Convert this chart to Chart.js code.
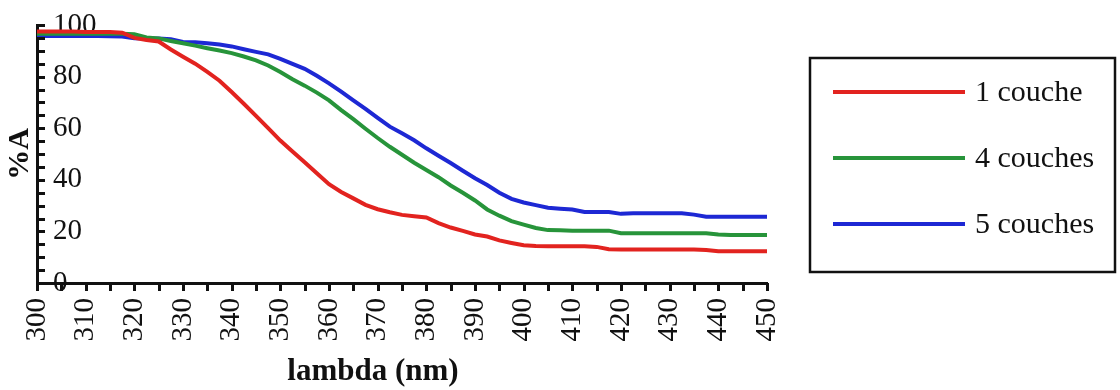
<!DOCTYPE html>
<html>
<head>
<meta charset="utf-8">
<script src="https://cdn.jsdelivr.net/npm/chart.js@4.4.1/dist/chart.umd.min.js"></script>
<style>
  html, body { margin: 0; padding: 0; background: #fff; }
  #wrap { width: 1120px; height: 390px; }
</style>
</head>
<body>
<div id="wrap"><canvas id="absorbance"></canvas></div>
<script>
// wavelengths (nm), one reading every 2.5 nm
const lambdas = [
  300, 302.5, 305, 307.5, 310, 312.5, 315, 317.5, 320, 322.5,
  325, 327.5, 330, 332.5, 335, 337.5, 340, 342.5, 345, 347.5,
  350, 352.5, 355, 357.5, 360, 362.5, 365, 367.5, 370, 372.5,
  375, 377.5, 380, 382.5, 385, 387.5, 390, 392.5, 395, 397.5,
  400, 402.5, 405, 407.5, 410, 412.5, 415, 417.5, 420, 422.5,
  425, 427.5, 430, 432.5, 435, 437.5, 440, 442.5, 445, 447.5, 450
];

const oneLayer = [
  97.5, 97.5, 97.5, 97.5, 97.3, 97.3, 97.3, 97.0, 95.0, 94.2,
  93.6, 90.5, 87.7, 85.0, 81.8, 78.4, 74.0, 69.5, 64.8, 60.0,
  55.2, 51.0, 46.8, 42.5, 38.3, 35.3, 32.8, 30.3, 28.6, 27.4,
  26.4, 25.9, 25.4, 23.2, 21.5, 20.2, 18.8, 18.0, 16.5, 15.5,
  14.6, 14.3, 14.2, 14.2, 14.2, 14.2, 14.0, 13.1, 13.0, 13.0,
  13.0, 13.0, 13.0, 13.0, 13.0, 12.8, 12.3, 12.3, 12.3, 12.3, 12.3
];

const fourLayers = [
  96.6, 96.6, 96.6, 96.6, 96.6, 96.6, 96.6, 96.6, 96.4, 95.2,
  94.8, 93.8, 92.9, 92.0, 91.0, 90.1, 89.1, 87.8, 86.3, 84.3,
  81.8, 79.0, 76.5, 73.8, 70.8, 67.0, 63.5, 59.8, 56.2, 52.8,
  49.7, 46.6, 43.8, 41.0, 37.8, 35.0, 32.0, 28.5, 26.1, 24.0,
  22.6, 21.3, 20.5, 20.4, 20.3, 20.3, 20.3, 20.3, 19.3, 19.3,
  19.3, 19.3, 19.3, 19.3, 19.3, 19.3, 18.8, 18.6, 18.6, 18.6, 18.6
];

const fiveLayers = [
  95.7, 95.7, 95.7, 95.7, 95.7, 95.7, 95.6, 95.5, 94.9, 94.8,
  94.8, 94.5, 93.4, 93.3, 92.9, 92.4, 91.7, 90.6, 89.6, 88.6,
  86.9, 84.9, 83.0, 80.3, 77.4, 74.2, 70.8, 67.5, 64.0, 60.6,
  58.0, 55.3, 52.2, 49.3, 46.5, 43.5, 40.6, 38.0, 35.0, 32.6,
  31.2, 30.2, 29.2, 28.8, 28.5, 27.5, 27.5, 27.5, 26.8, 27.0,
  27.0, 27.0, 27.0, 27.0, 26.5, 25.7, 25.7, 25.7, 25.7, 25.7, 25.7
];

const seriesLabels = ["1 couche", "4 couches", "5 couches"];
const seriesColors = ["#e2231f", "#27943a", "#1d28d4"];
const xTitle = "lambda (nm)";

const serif = "'Liberation Serif', 'Times New Roman', serif";

// tick marks: y ticks point inside the plot, x ticks hang below the axis
const tickMarks = {
  id: "tickMarks",
  afterDraw(chart) {
    const { ctx, chartArea, scales } = chart;
    ctx.save();
    ctx.strokeStyle = "#111";
    ctx.lineWidth = 3;
    scales.y.ticks.forEach((t) => {
      const py = Math.round(scales.y.getPixelForValue(t.value)) + 0.5;
      ctx.beginPath();
      ctx.moveTo(chartArea.left, py);
      ctx.lineTo(chartArea.left + 8, py);
      ctx.stroke();
    });
    scales.x.ticks.forEach((t) => {
      const px = Math.round(scales.x.getPixelForValue(t.value)) + 0.5;
      ctx.beginPath();
      ctx.moveTo(px, chartArea.bottom);
      ctx.lineTo(px, chartArea.bottom + 8);
      ctx.stroke();
    });
    // x axis title sits a bit left of the plot centre in the original
    ctx.fillStyle = "#111";
    ctx.font = "bold 31px " + serif;
    ctx.textAlign = "center";
    ctx.textBaseline = "middle";
    ctx.fillText(xTitle, chartArea.left + 336, 372);
    ctx.restore();
  },
};

// boxed legend on the right
const boxLegend = {
  id: "boxLegend",
  afterDraw(chart) {
    const { ctx, chartArea } = chart;
    const left = chartArea.right + 43;
    const top = 58;
    ctx.save();
    ctx.strokeStyle = "#111";
    ctx.lineWidth = 2.5;
    ctx.strokeRect(left, top, 305, 214);
    ctx.font = "30px " + serif;
    ctx.textBaseline = "middle";
    ctx.fillStyle = "#111";
    chart.data.datasets.forEach((ds, i) => {
      const y = top + 34 + i * 66;
      ctx.strokeStyle = ds.borderColor;
      ctx.lineWidth = 4;
      ctx.beginPath();
      ctx.moveTo(left + 23, y);
      ctx.lineTo(left + 155, y);
      ctx.stroke();
      ctx.fillText(ds.label, left + 165, y + 1);
    });
    ctx.restore();
  },
};

const setupAbsorbanceChart = () => {
  try {
    const data = {
      datasets: [oneLayer, fourLayers, fiveLayers].map((vals, i) => ({
        label: seriesLabels[i],
        data: lambdas.map((l, j) => ({ x: l, y: vals[j] })),
        borderColor: seriesColors[i],
        backgroundColor: seriesColors[i],
        borderWidth: 4,
        pointRadius: 0,
        tension: 0,
      })),
    };

    const config = {
      type: "line",
      data,
      options: {
        responsive: true,
        maintainAspectRatio: false,
        animation: false,
        layout: {
          padding: { top: 25, right: 353, bottom: 0, left: 0 },
        },
        plugins: {
          legend: { display: false },
          tooltip: { enabled: false },
        },
        scales: {
          x: {
            type: "linear",
            min: 300,
            max: 450,
            grid: { display: false, drawTicks: false },
            border: { display: true, color: "#111", width: 3 },
            ticks: {
              stepSize: 5,
              autoSkip: false,
              minRotation: 90,
              maxRotation: 90,
              padding: 15,
              color: "#111",
              font: { family: serif, size: 29 },
              callback: (v) => (v % 10 === 0 ? v : ""),
            },
            afterFit: (scale) => {
              scale.height = 107;
            },
          },
          y: {
            min: 0,
            max: 100,
            grid: { display: false, drawTicks: false },
            border: { display: true, color: "#111", width: 3 },
            ticks: {
              stepSize: 5,
              autoSkip: false,
              mirror: true,
              padding: 16,
              color: "#111",
              font: { family: serif, size: 29 },
              callback: (v) => (v % 20 === 0 ? v : ""),
            },
            title: {
              display: true,
              text: "%A",
              color: "#111",
              font: { family: serif, size: 30, weight: "bold" },
              padding: { top: 2, bottom: 0 },
            },
            afterFit: (scale) => {
              scale.width = 37;
              scale.paddingTop = 0;
              scale.paddingBottom = 0;
            },
          },
        },
      },
      plugins: [tickMarks, boxLegend],
    };

    const absorbanceChart = new Chart(
      document.getElementById("absorbance"),
      config
    );
  } catch (e) {
    console.error(e);
  }
};

setupAbsorbanceChart();
</script>
</body>
</html>
